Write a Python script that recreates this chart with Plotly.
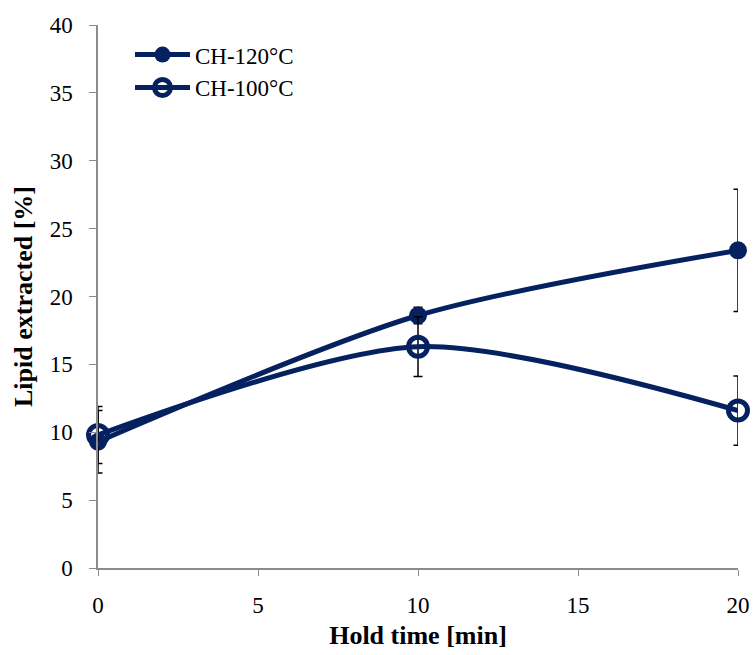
import plotly.graph_objects as go

hold_time = [0, 10, 20]
ch120 = [9.3, 18.6, 23.4]
ch120_err = [2.3, 0.6, 4.5]
ch100 = [9.8, 16.3, 11.6]
ch100_err = [2.1, 2.2, 2.55]

navy = "#05215f"
font_family = "Liberation Serif, Times New Roman, serif"

fig = go.Figure()

fig.add_trace(go.Scatter(
    x=hold_time, y=ch120, name="CH-120°C",
    mode="lines+markers",
    line=dict(color=navy, width=5, shape="spline", smoothing=0.8),
    marker=dict(symbol="circle", size=18, color=navy),
    error_y=dict(type="data", array=ch120_err, color="black", thickness=1.5, width=4.5),
    cliponaxis=False,
))

fig.add_trace(go.Scatter(
    x=hold_time, y=ch100, name="CH-100°C",
    mode="lines+markers",
    line=dict(color=navy, width=5, shape="spline", smoothing=0.8),
    marker=dict(symbol="circle-open", size=19, color=navy, line=dict(width=5, color=navy)),
    error_y=dict(type="data", array=ch100_err, color="black", thickness=1.5, width=4.5),
    cliponaxis=False,
))

fig.update_layout(
    width=755, height=655,
    margin=dict(l=98, r=17, t=25, b=87),
    plot_bgcolor="white", paper_bgcolor="white",
    font=dict(family=font_family, size=23, color="black"),
    showlegend=True,
    legend=dict(x=0.05, y=0.985, xanchor="left", yanchor="top",
                bgcolor="rgba(0,0,0,0)", font=dict(size=23),
                itemwidth=55, tracegroupgap=0),
)

fig.update_xaxes(
    range=[0, 20], tickvals=[0, 5, 10, 15, 20],
    showgrid=False, zeroline=False, automargin=False,
    showline=True, linecolor="#8c8c8c", linewidth=1.5,
    ticks="outside", ticklen=6, tickcolor="#8c8c8c",
    ticklabelstandoff=10,
    title=dict(text="<b>Hold time [min]</b>", font=dict(size=26), standoff=8),
)
fig.update_yaxes(
    range=[0, 40], tickvals=list(range(0, 41, 5)),
    showgrid=False, zeroline=False, automargin=False,
    showline=True, linecolor="#8c8c8c", linewidth=1.5,
    ticks="outside", ticklen=7, tickcolor="#8c8c8c",
    ticklabelstandoff=12,
    title=dict(text="<b>Lipid extracted [%]</b>", font=dict(size=26), standoff=10),
)

fig.write_html("out.html")
